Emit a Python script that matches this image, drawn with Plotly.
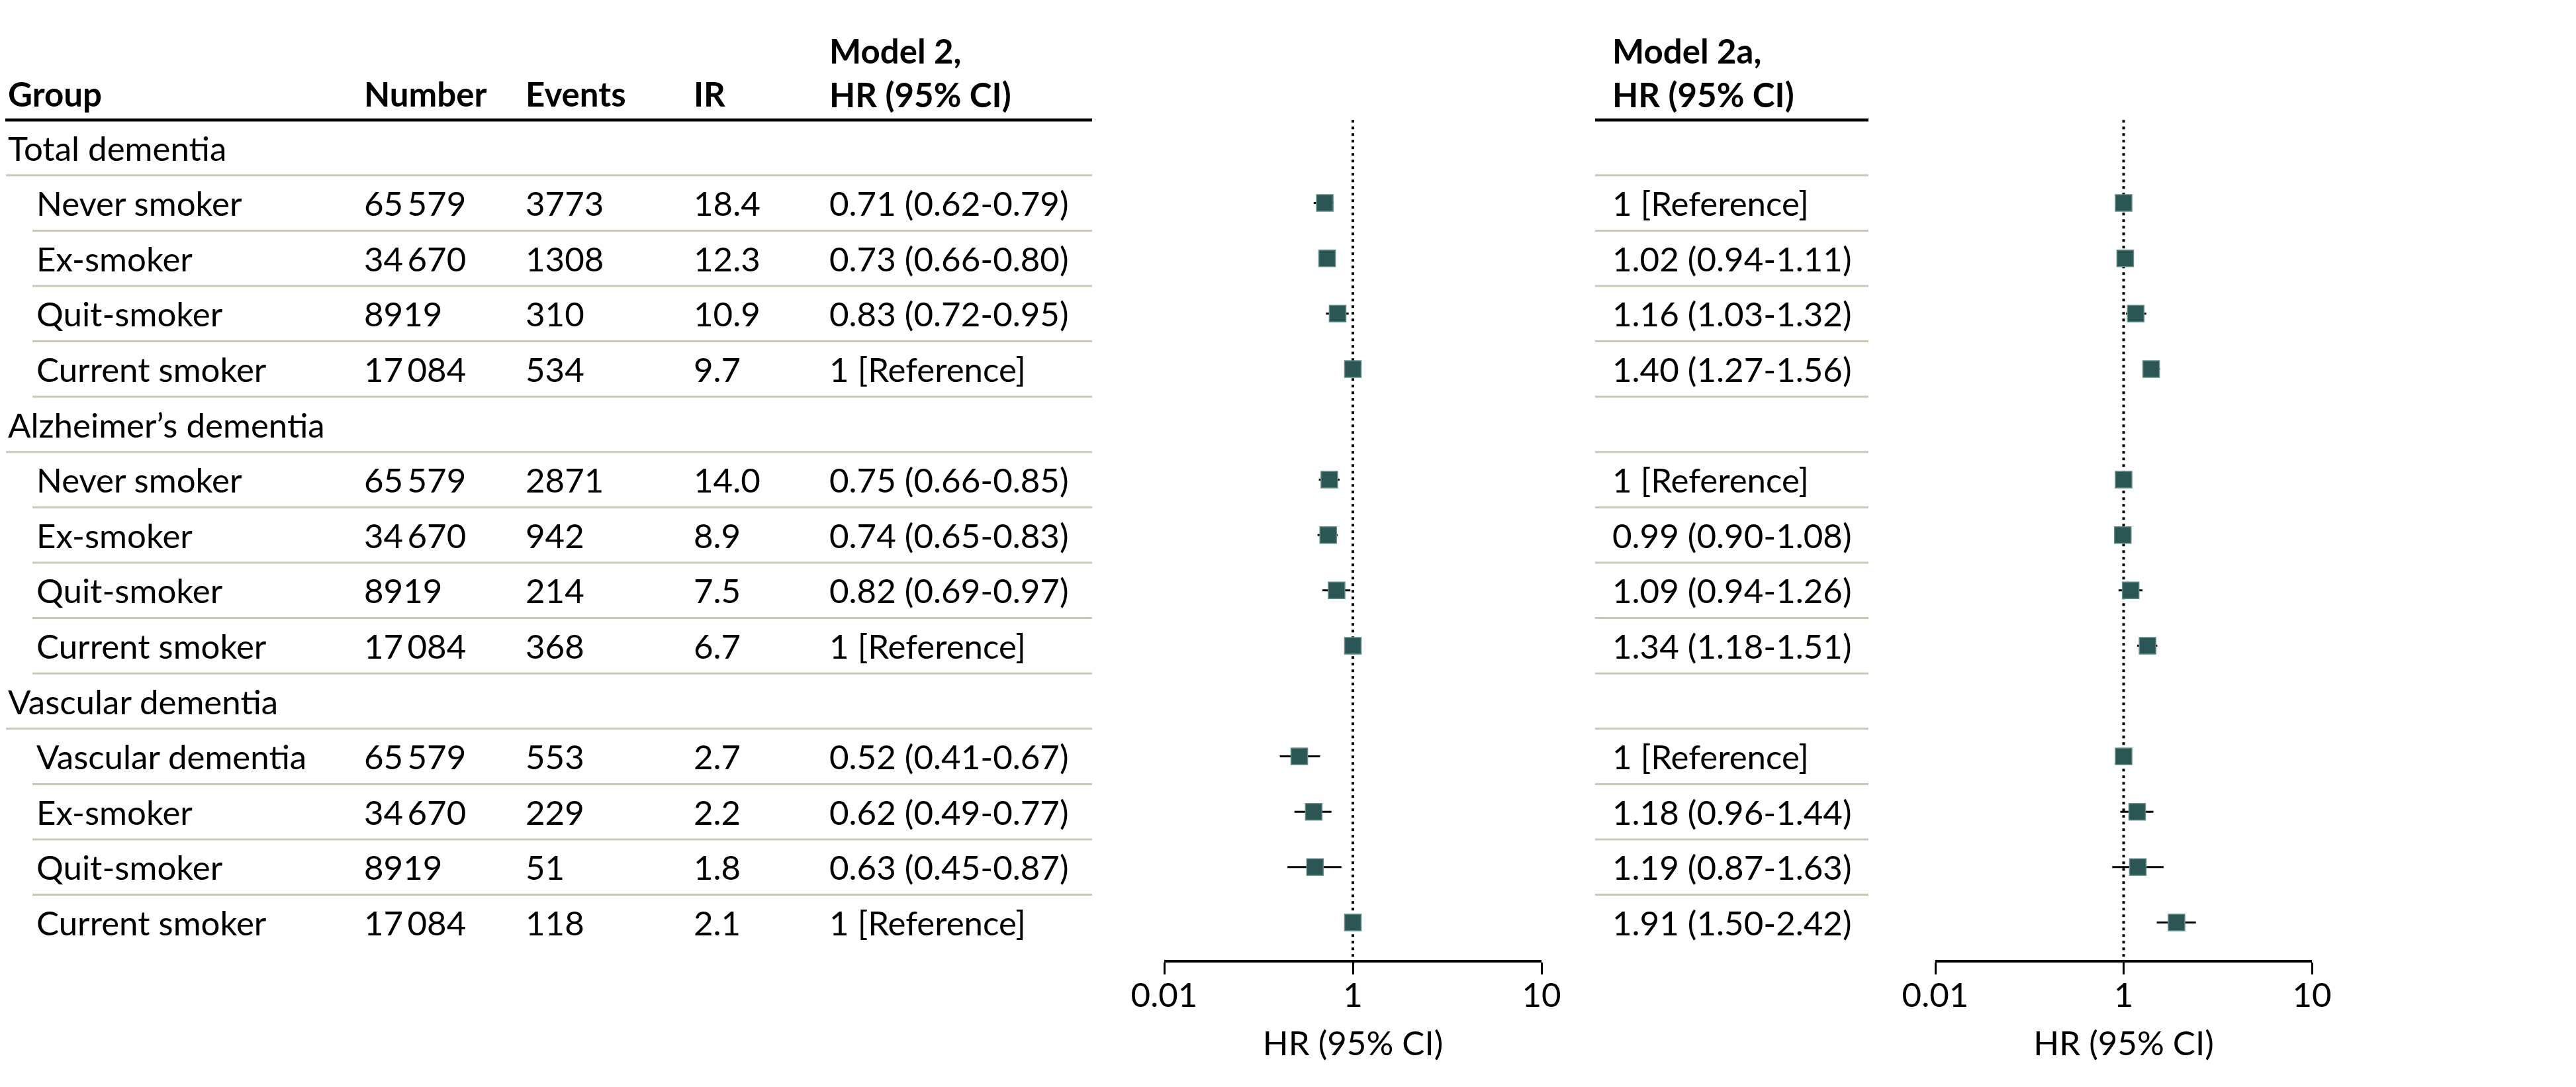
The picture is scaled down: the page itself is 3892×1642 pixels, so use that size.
import plotly.graph_objects as go

# ---------------- data ----------------
sections = ["Total dementia", "Alzheimer’s dementia", "Vascular dementia"]
groups = ["Never smoker", "Ex-smoker", "Quit-smoker", "Current smoker",
          "Never smoker", "Ex-smoker", "Quit-smoker", "Current smoker",
          "Vascular dementia", "Ex-smoker", "Quit-smoker", "Current smoker"]
number = [65579, 34670, 8919, 17084, 65579, 34670, 8919, 17084, 65579, 34670, 8919, 17084]
events = [3773, 1308, 310, 534, 2871, 942, 214, 368, 553, 229, 51, 118]
ir = ["18.4", "12.3", "10.9", "9.7", "14.0", "8.9", "7.5", "6.7", "2.7", "2.2", "1.8", "2.1"]

m2_hr = [0.71, 0.73, 0.83, 1, 0.75, 0.74, 0.82, 1, 0.52, 0.62, 0.63, 1]
m2_lo = [0.62, 0.66, 0.72, None, 0.66, 0.65, 0.69, None, 0.41, 0.49, 0.45, None]
m2_hi = [0.79, 0.80, 0.95, None, 0.85, 0.83, 0.97, None, 0.67, 0.77, 0.87, None]

m2a_hr = [1, 1.02, 1.16, 1.40, 1, 0.99, 1.09, 1.34, 1, 1.18, 1.19, 1.91]
m2a_lo = [None, 0.94, 1.03, 1.27, None, 0.90, 0.94, 1.18, None, 0.96, 0.87, 1.50]
m2a_hi = [None, 1.11, 1.32, 1.56, None, 1.08, 1.26, 1.51, None, 1.44, 1.63, 2.42]

tick_vals = [0.1, 1, 10]
tick_text = ["0.01", "1", "10"]

# ---------------- layout constants (screen pixels) ----------------
SCREEN_W, SCREEN_H = 3892, 1642
BODY = 8                      # default page body margin
W, H = SCREEN_W - 2 * BODY, SCREEN_H - 2 * BODY
ROW0_PX = 223.0      # screen y of first row centre
ROW_H = 83.6         # row height in px
AXIS_PX = 1450.0     # screen y of forest x-axis line
FONT = "Lato"
FS = 51
MARK = "#2b5654"
MARK_EDGE = "#5f8e8b"
SEP = "#c6cbb6"

col_group_hdr = 10
col_group_sub = 53
col_number = 548
col_events = 792
col_ir = 1046
col_hr = 1251
col_hr2 = 2434
left_tab = (9, 49, 1650)
right_tab = (2410, 2823)
forest1 = (1759, 2329)
forest2 = (2924, 3493)


def fmt_n(n):
    return f"{n:,}".replace(",", "\u2009") if n >= 10000 else str(n)


def fmt_hr(hr, lo, hi):
    if lo is None:
        return "1 [Reference]"
    return f"{hr:.2f} ({lo:.2f}-{hi:.2f})"


def v_of(px):
    return (px - ROW0_PX) / ROW_H


# build rows
rows = []  # (kind, label, idx)
k = 0
for s in sections:
    rows.append(("hdr", s, None))
    for _ in range(4):
        rows.append(("sub", groups[k], k))
        k += 1

data_y = [i for i, r in enumerate(rows) if r[0] == "sub"]

fig = go.Figure()


def err(hr, lo, hi):
    plus = [0 if l is None else h - v for v, l, h in zip(hr, lo, hi)]
    minus = [0 if l is None else v - l for v, l, h in zip(hr, lo, hi)]
    return dict(type="data", symmetric=False, array=plus, arrayminus=minus,
                color="black", thickness=3, width=0)


for xa, hr, lo, hi in (("x2", m2_hr, m2_lo, m2_hi), ("x3", m2a_hr, m2a_lo, m2a_hi)):
    fig.add_trace(go.Scatter(
        x=hr, y=data_y, xaxis=xa, yaxis="y2", mode="markers",
        marker=dict(symbol="square", size=25, color=MARK,
                    line=dict(color=MARK_EDGE, width=1.5)),
        error_x=err(hr, lo, hi), showlegend=False, hoverinfo="skip", cliponaxis=False))

annotations = []


def txt(x, y, s, bold=False, size=FS):
    annotations.append(dict(x=x, y=y, xref="x", yref="y", text=(f"<b>{s}</b>" if bold else s),
                            showarrow=False, xanchor="left", yanchor="middle", align="left",
                            font=dict(family=FONT, size=size, color="black")))


# headers
HDR_Y = v_of(141)
HDR2_Y = v_of(109)
for x, s in ((col_group_hdr, "Group"), (col_number, "Number"), (col_events, "Events"),
             (col_ir, "IR")):
    txt(x, HDR_Y, s, bold=True)
txt(col_hr, HDR2_Y, "Model 2,<br>HR (95% CI)", bold=True)
txt(col_hr2, HDR2_Y, "Model 2a,<br>HR (95% CI)", bold=True)

shapes = []


def hline(x0, x1, y, color, width):
    shapes.append(dict(type="line", xref="x", yref="y", x0=x0, x1=x1, y0=y, y1=y,
                       line=dict(color=color, width=width)))


hline(0, left_tab[2], -0.5, "black", 4.5)
hline(right_tab[0], right_tab[1], -0.5, "black", 4.5)

for i, (kind, label, idx) in enumerate(rows):
    if kind == "hdr":
        txt(col_group_hdr, i, label)
    else:
        txt(col_group_sub, i, label)
        txt(col_number, i, fmt_n(number[idx]))
        txt(col_events, i, str(events[idx]))
        txt(col_ir, i, ir[idx])
        txt(col_hr, i, fmt_hr(m2_hr[idx], m2_lo[idx], m2_hi[idx]))
        txt(col_hr2, i, fmt_hr(m2a_hr[idx], m2a_lo[idx], m2a_hi[idx]))
    if i < len(rows) - 1:
        x0 = left_tab[0] if kind == "hdr" else left_tab[1]
        hline(x0, left_tab[2], i + 0.5, SEP, 3)
        hline(right_tab[0], right_tab[1], i + 0.5, SEP, 3)

y_top = v_of(BODY)
y_bot_full = v_of(BODY + H)
y_axis_v = v_of(AXIS_PX)

for xa in ("x2", "x3"):
    shapes.append(dict(type="line", xref=xa, yref="y2", x0=1, x1=1, y0=-0.5, y1=y_axis_v,
                       layer="below", line=dict(color="black", width=4, dash="4px,6px")))

forest_axis = dict(type="log", range=[-1, 1], anchor="y2", showline=True, linewidth=4,
                   linecolor="black", ticks="outside", ticklen=18, tickwidth=3,
                   tickcolor="black", tickvals=tick_vals, ticktext=tick_text,
                   ticklabelstandoff=-12,
                   showgrid=False, zeroline=False, fixedrange=True, automargin=False,
                   tickfont=dict(family=FONT, size=FS, color="black"),
                   title=dict(text="HR (95% CI)", standoff=28,
                              font=dict(family=FONT, size=FS, color="black")))

fig.update_layout(
    template="none",
    width=W, height=H, margin=dict(l=0, r=0, t=0, b=0, pad=0), autosize=False,
    paper_bgcolor="white", plot_bgcolor="rgba(0,0,0,0)", showlegend=False,
    xaxis=dict(range=[BODY, BODY + W], domain=[0, 1], visible=False, fixedrange=True,
               automargin=False),
    yaxis=dict(range=[y_bot_full, y_top], domain=[0, 1], visible=False, fixedrange=True,
               automargin=False),
    yaxis2=dict(range=[y_axis_v, y_top], domain=[(BODY + H - AXIS_PX) / H, 1], visible=False,
                fixedrange=True, automargin=False, anchor="x2"),
    xaxis2=dict(domain=[(forest1[0] - BODY) / W, (forest1[1] - BODY) / W], **forest_axis),
    xaxis3=dict(domain=[(forest2[0] - BODY) / W, (forest2[1] - BODY) / W], **forest_axis),
    annotations=annotations, shapes=shapes,
)

fig.write_html("out.html")
